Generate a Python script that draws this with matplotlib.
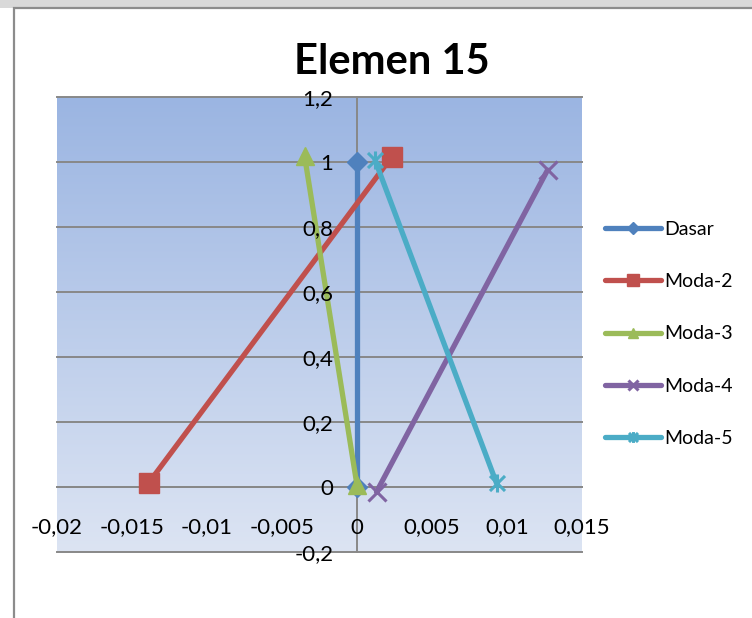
import numpy as np
import matplotlib as mpl
mpl.use('Agg')
import matplotlib.pyplot as plt
from matplotlib.path import Path
from matplotlib.patches import Rectangle
from matplotlib.ticker import MultipleLocator, FuncFormatter

plt.rcParams['font.family'] = ['Lato', 'DejaVu Sans']

# mode shape of element 15: (x, y) end points per mode
labels = ['Dasar', 'Moda-2', 'Moda-3', 'Moda-4', 'Moda-5']
x_vals = [[0.0, 0.0],
          [-0.0139, 0.0023],
          [0.0, -0.0035],
          [0.0013, 0.0127],
          [0.0012, 0.0093]]
y_vals = [[0.0, 1.0],
          [0.012, 1.015],
          [0.005, 1.02],
          [-0.015, 0.975],
          [1.006, 0.012]]
colors = ['#4F81BD', '#C0504D', '#9BBB59', '#8064A2', '#4BACC6']

# excel style star: an x with a vertical stroke
star = Path([(-1, -1), (1, 1), (-1, 1), (1, -1), (0, -1.2), (0, 1.2)],
            [Path.MOVETO, Path.LINETO, Path.MOVETO, Path.LINETO, Path.MOVETO, Path.LINETO])
markers = ['D', 's', '^', 'x', star]
msizes = [10, 14, 13, 13, 13]

W, H = 752, 618
fig = plt.figure(figsize=(W / 100, H / 100), dpi=100)

# frame of the chart object and the grey page strip above it
fig.patches.append(Rectangle((0, 1 - 8 / H), 1, 8 / H, transform=fig.transFigure,
                             facecolor='#D9D9D9', edgecolor='none', zorder=0))
fig.patches.append(Rectangle((13.5 / W, -0.1), 1.2, 1.1 - 8.5 / H, transform=fig.transFigure,
                             facecolor='none', edgecolor='#8C8C8C', lw=1.6, zorder=1))

ax = fig.add_axes([57 / W, 1 - 552 / H, (582 - 57) / W, (552 - 97) / H])

# vertical gradient for the plot area
top = np.array(mpl.colors.to_rgb('#9BB5E2'))
bot = np.array(mpl.colors.to_rgb('#DCE4F3'))
t = np.linspace(0, 1, 256)[:, None]
grad = (top * (1 - t) + bot * t)[:, None, :]
ax.imshow(grad, extent=[0, 1, 0, 1], transform=ax.transAxes, aspect='auto', zorder=0)

for xs, ys, c, m, ms, lab in zip(x_vals, y_vals, colors, markers, msizes, labels):
    mew = 2.2 if lab in ('Moda-4', 'Moda-5') else 1
    ax.plot(xs, ys, color=c, lw=3.8, marker=m, ms=ms, mew=mew,
            markerfacecolor=c, markeredgecolor=c, label=lab,
            solid_capstyle='round', zorder=3)

ymin, ymax = -0.2, 1.2
ax.set_xlim(-0.02, 0.015)
ax.set_ylim(ymin, ymax)
ax.xaxis.set_major_locator(MultipleLocator(0.005))
ax.yaxis.set_major_locator(MultipleLocator(0.2))
fmt = FuncFormatter(lambda v, p: ('%g' % round(v, 4)).replace('.', ','))
ax.xaxis.set_major_formatter(fmt)
ax.yaxis.set_major_formatter(fmt)

# gridlines under the series, tick labels above them
for yt in ax.get_yticks():
    if ymin - 1e-9 <= yt <= ymax + 1e-9:
        ax.axhline(yt, color='#888888', lw=1.4, zorder=1, clip_on=False)
ax.xaxis.set_zorder(4)
ax.yaxis.set_zorder(4)

for s in ['top', 'right']:
    ax.spines[s].set_visible(False)
ax.spines['left'].set_position(('data', 0))
ax.spines['bottom'].set_position(('data', 0))
for s in ['left', 'bottom']:
    ax.spines[s].set_color('#888888')
    ax.spines[s].set_linewidth(1.4)
    ax.spines[s].set_zorder(1)
ax.tick_params(axis='x', length=0, pad=22, labelsize=16)
ax.tick_params(axis='y', length=0, pad=17, labelsize=16)

fig.text(392 / W, 1 - 62 / H, 'Elemen 15', ha='center', va='center',
         fontsize=30, fontweight='bold')

fig.legend(loc='center left', bbox_to_anchor=(605 / W, 1 - 334 / H), frameon=False,
           fontsize=14, handlelength=2.9, handletextpad=0.15, labelspacing=1.82,
           borderpad=0, borderaxespad=0, markerscale=0.6)

fig.savefig('out.png', dpi=100)
